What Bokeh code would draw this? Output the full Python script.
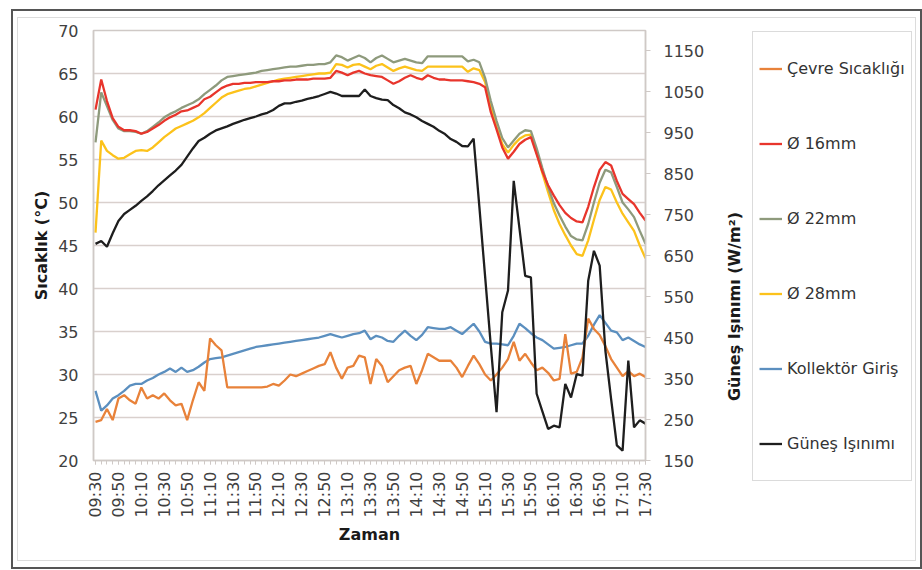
import math
from bokeh.plotting import figure
from bokeh.models import (Range1d, LinearAxis, FixedTicker, Legend, LegendItem,
                          ColumnDataSource, Label, Div)
from bokeh.embed import file_html
from bokeh.resources import INLINE

# time categories every 5 minutes, 09:30 .. 17:30
times = [f"{(570 + 5 * i) // 60:02d}:{(570 + 5 * i) % 60:02d}" for i in range(97)]
tick_labels = ["09:30", "09:50", "10:10", "10:30", "10:50", "11:10", "11:30", "11:50",
               "12:10", "12:30", "12:50", "13:10", "13:30", "13:50", "14:10", "14:30",
               "14:50", "15:10", "15:30", "15:50", "16:10", "16:30", "16:50", "17:10", "17:30"]
temp_ticks = [20, 25, 30, 35, 40, 45, 50, 55, 60, 65, 70]
rad_ticks = [150, 250, 350, 450, 550, 650, 750, 850, 950, 1050, 1150]

cevre = [24.5, 24.7, 26.0, 24.7, 27.2, 27.6, 27.0, 26.6, 28.5, 27.2,
         27.6, 27.2, 27.8, 27.0, 26.4, 26.6, 24.7, 27.0, 29.1, 28.1,
         34.2, 33.4, 32.8, 28.5, 28.5, 28.5, 28.5, 28.5, 28.5, 28.5,
         28.6, 28.9, 28.7, 29.3, 30.0, 29.8, 30.1, 30.4, 30.7, 31.0,
         31.2, 32.6, 30.8, 29.5, 30.8, 31.0, 32.2, 32.0, 28.9, 31.8,
         31.0, 29.1, 29.8, 30.5, 30.8, 31.0, 28.9, 30.5, 32.4, 32.0,
         31.6, 31.6, 31.6, 30.8, 29.7, 31.0, 32.2, 31.2, 30.0, 29.3,
         30.0, 30.8, 31.8, 33.8, 31.6, 32.4, 31.4, 30.5, 30.8, 30.2,
         29.3, 29.5, 34.7, 30.1, 30.3, 32.0, 36.5, 35.3, 34.6, 33.3,
         31.8, 30.8, 29.8, 30.4, 29.8, 30.1, 29.7]

d16 = [60.8, 64.3, 61.8, 59.8, 58.8, 58.4, 58.4, 58.3, 58.0, 58.2,
       58.6, 59.0, 59.5, 59.9, 60.2, 60.6, 60.7, 61.0, 61.3, 62.0,
       62.3, 62.8, 63.3, 63.6, 63.8, 63.8, 63.9, 63.9, 64.0, 64.0,
       64.0, 64.1, 64.1, 64.2, 64.2, 64.3, 64.3, 64.3, 64.4, 64.4,
       64.4, 64.5, 65.3, 65.1, 64.8, 65.1, 65.3, 65.0, 64.8, 64.7,
       64.6, 64.2, 63.8, 64.1, 64.5, 64.8, 64.5, 64.3, 64.8, 64.5,
       64.3, 64.3, 64.2, 64.2, 64.2, 64.1, 64.0, 63.8, 63.4, 60.5,
       58.5, 56.4, 55.1, 55.9, 56.8, 57.3, 57.6, 55.6, 53.6, 52.0,
       50.8, 49.7, 48.8, 48.2, 47.8, 47.7, 49.5, 51.8, 53.8, 54.7,
       54.3, 52.5, 51.0, 50.4, 49.8, 48.8, 47.9]

d22 = [57.0, 62.8, 61.2, 59.6, 58.6, 58.3, 58.3, 58.2, 58.0, 58.3,
       58.8, 59.3, 59.9, 60.3, 60.6, 61.0, 61.3, 61.6, 62.0, 62.6,
       63.1, 63.6, 64.2, 64.6, 64.7, 64.8, 64.9, 65.0, 65.1, 65.3,
       65.4, 65.5, 65.6, 65.7, 65.8, 65.8, 65.9, 66.0, 66.0, 66.1,
       66.1, 66.3, 67.1, 66.9, 66.5, 66.8, 67.1, 66.8, 66.3, 66.8,
       67.1, 66.7, 66.3, 66.5, 66.7, 66.5, 66.3, 66.2, 67.0, 67.0,
       67.0, 67.0, 67.0, 67.0, 67.0, 66.4, 66.6, 66.3, 64.5, 61.8,
       59.5, 57.5, 56.4, 57.2, 58.0, 58.4, 58.3, 56.3, 54.0, 51.8,
       49.9, 48.5, 47.2, 46.1, 45.7, 45.6, 47.5, 50.0, 52.3, 53.8,
       53.5, 51.8, 50.0, 49.2, 48.3, 46.7, 45.2]

d28 = [46.5, 57.2, 56.0, 55.5, 55.1, 55.2, 55.6, 56.0, 56.1, 56.0,
       56.4, 57.0, 57.6, 58.1, 58.6, 58.9, 59.2, 59.5, 59.9, 60.4,
       61.0, 61.6, 62.2, 62.6, 62.8, 63.0, 63.2, 63.3, 63.5, 63.7,
       63.9, 64.1, 64.3, 64.4, 64.5, 64.6, 64.7, 64.8, 64.9, 65.0,
       65.0, 65.1, 66.1, 66.0, 65.7, 66.0, 66.1, 65.8, 65.5, 65.9,
       66.1, 65.7, 65.3, 65.6, 65.8, 65.6, 65.4, 65.3, 65.8, 65.8,
       65.8, 65.8, 65.8, 65.8, 65.8, 65.2, 65.6, 65.4, 64.0, 61.2,
       58.8, 56.8, 55.8, 56.7, 57.4, 57.8, 57.9, 55.8, 53.4, 51.2,
       49.1, 47.5, 46.2, 45.0, 44.0, 43.8, 45.6, 48.0, 50.3, 51.8,
       51.5, 50.0, 48.7, 47.7, 46.7, 45.0, 43.5]

kollektor = [28.1, 25.8, 26.4, 27.2, 27.6, 28.1, 28.7, 28.9, 28.9, 29.3,
             29.6, 30.0, 30.3, 30.7, 30.3, 30.8, 30.3, 30.5, 30.9, 31.4,
             31.8, 31.9, 32.0, 32.2, 32.4, 32.6, 32.8, 33.0, 33.2, 33.3,
             33.4, 33.5, 33.6, 33.7, 33.8, 33.9, 34.0, 34.1, 34.2, 34.3,
             34.5, 34.7, 34.5, 34.3, 34.5, 34.7, 34.8, 35.1, 34.1, 34.5,
             34.3, 33.9, 33.8, 34.5, 35.1, 34.5, 34.0, 34.6, 35.5, 35.4,
             35.3, 35.3, 35.5, 35.1, 34.7, 35.3, 35.9, 35.0, 33.8, 33.6,
             33.6, 33.5, 33.4, 34.5, 35.9, 35.4, 34.8, 34.3, 34.0, 33.5,
             33.0, 33.1, 33.2, 33.4, 33.6, 33.6, 34.5, 35.8, 36.9, 36.0,
             35.1, 34.9, 34.0, 34.3, 33.9, 33.5, 33.2]

gunes = [679, 686, 672, 705, 735, 752, 762, 772, 784, 795,
         808, 822, 834, 846, 858, 872, 892, 912, 930, 938,
         948, 956, 961, 966, 972, 977, 982, 986, 990, 995,
         999, 1006, 1016, 1022, 1022, 1026, 1029, 1033, 1036, 1040,
         1045, 1050, 1046, 1040, 1040, 1040, 1040, 1056, 1040, 1035,
         1031, 1030, 1018, 1010, 1000, 995, 988, 979, 972, 965,
         955, 947, 935, 928, 918, 917, 936, 770, 600, 430,
         268, 512, 565, 833, 717, 601, 597, 313, 270, 227,
         235, 231, 337, 304, 361, 357, 589, 662, 626, 418,
         300, 187, 174, 394, 231, 248, 240]

series_names = ["Çevre Sıcaklığı", "Ø 16mm", "Ø 22mm", "Ø 28mm", "Kollektör Giriş", "Güneş Işınımı"]
series_cols = ["cevre", "d16", "d22", "d28", "kollektor", "gunes"]
series_colors = ["#e8823a", "#e8352c", "#8e9a7c", "#fcc21b", "#5b8fbf", "#1e1e1e"]
left_title = "Sıcaklık (°C)"
right_title = "Güneş Işınımı (W/m²)"
x_title = "Zaman"

FONT = "DejaVu Sans"
TICK_COLOR = "#404040"
TITLE_COLOR = "#1a1a1a"
LINE_GRAY = "#cfc9c6"
LW = 2.3

src = ColumnDataSource(dict(x=list(range(len(times))), cevre=cevre, d16=d16, d22=d22,
                            d28=d28, kollektor=kollektor, gunes=gunes))

p = figure(width=922, height=570, x_range=Range1d(-0.35, len(times) - 1),
           y_range=Range1d(20, 70), output_backend="svg", toolbar_location=None,
           min_border_left=93, min_border_right=277, min_border_top=30, min_border_bottom=110)
p.extra_y_ranges = {"rad": Range1d(150, 1200)}
p.background_fill_color = "white"
p.border_fill_color = "white"
p.outline_line_color = LINE_GRAY
p.outline_line_width = 1.5

p.xgrid.visible = False
p.ygrid.grid_line_color = "#d9d0cd"
p.ygrid.grid_line_width = 1.5

lax = p.left[0]
lax.ticker = FixedTicker(ticks=temp_ticks)
lax.axis_label = left_title

rax = LinearAxis(y_range_name="rad", ticker=FixedTicker(ticks=rad_ticks))
p.add_layout(rax, "right")

bax = p.below[0]
major_idx = [i for i, t in enumerate(times) if t in tick_labels]
bax.ticker = FixedTicker(ticks=major_idx, minor_ticks=list(range(len(times))))
bax.major_label_overrides = {i: times[i] for i in major_idx}
bax.major_label_orientation = math.pi / 2
bax.axis_label = x_title

for ax in (lax, rax, bax):
    ax.axis_line_color = LINE_GRAY
    ax.axis_line_width = 1.5
    ax.major_tick_line_color = LINE_GRAY
    ax.minor_tick_line_color = LINE_GRAY
    ax.major_label_text_font = FONT
    ax.major_label_text_font_size = "16px"
    ax.major_label_text_color = TICK_COLOR
    ax.axis_label_text_font = FONT
    ax.axis_label_text_font_size = "16px"
    ax.axis_label_text_font_style = "bold"
    ax.axis_label_text_color = TITLE_COLOR

lax.major_tick_out = 0
lax.major_tick_in = 0
lax.minor_tick_out = 0
lax.minor_tick_in = 0
lax.major_label_standoff = 15
lax.axis_label_standoff = 4

rax.major_tick_out = 5
rax.major_tick_in = 0
rax.minor_tick_out = 0
rax.minor_tick_in = 0
rax.major_label_standoff = 13

bax.major_tick_out = 4
bax.major_tick_in = 0
bax.minor_tick_out = 4
bax.minor_tick_in = 0
bax.major_label_standoff = 7
bax.axis_label_standoff = 4

# drawing order: collector inlet, ambient, 28, 22, 16, radiation on top
for idx in (4, 0, 3, 2, 1, 5):
    kw = {"y_range_name": "rad"} if series_cols[idx] == "gunes" else {}
    p.line("x", series_cols[idx], source=src, line_color=series_colors[idx], line_width=LW, **kw)

# right axis title (reads bottom-to-top, as in the reference)
tt = figure(width=24, height=200, x_range=Range1d(0, 1), y_range=Range1d(0, 1),
            output_backend="svg", toolbar_location=None, min_border=0)
tt.axis.visible = False
tt.grid.visible = False
tt.outline_line_color = None
tt.background_fill_color = None
tt.border_fill_color = None
tt.styles = {"position": "absolute", "left": "722px", "top": "206px"}
tt.add_layout(Label(x=0.5, y=0.5, text=right_title, angle=math.pi / 2,
                    text_align="center", text_baseline="middle", text_font=FONT,
                    text_font_size="16px", text_font_style="bold", text_color=TITLE_COLOR))

# legend panel, placed to the right of the chart; its lines use the same data
# but with ranges that keep them out of view, so only the legend shows
lg = figure(width=160, height=450, x_range=Range1d(-3, -2), y_range=Range1d(-3, -2),
            output_backend="svg", toolbar_location=None, min_border=0)
lg.axis.visible = False
lg.grid.visible = False
lg.outline_line_color = None
lg.background_fill_color = None
lg.border_fill_color = None
lg.styles = {"position": "absolute", "left": "752px", "top": "31px"}
items = []
for name, col, color in zip(series_names, series_cols, series_colors):
    r = lg.line("x", col, source=src, line_color=color, line_width=LW)
    items.append(LegendItem(label=name, renderers=[r]))
legend = Legend(items=items, location="top_left")
legend.label_text_font = FONT
legend.label_text_font_size = "16px"
legend.label_text_color = "#333333"
legend.glyph_width = 23
legend.glyph_height = 61
legend.label_height = 61
legend.spacing = 14
legend.padding = 6
legend.margin = 0
legend.label_standoff = 5
legend.border_line_color = "#b8b8b8"
legend.border_line_width = 1.5
legend.background_fill_color = "white"
legend.background_fill_alpha = 1.0
lg.add_layout(legend)

# light inner frame of the chart area and dark outer frame of the figure
frame_box = Div(text="", width=899, height=544,
                styles={"position": "absolute", "left": "12px", "top": "12px",
                        "border": "1.5px solid #dcdcdc", "pointer-events": "none"})
outer_box = Div(text="", width=911, height=560,
                styles={"position": "absolute", "left": "6px", "top": "4px",
                        "border": "2px solid #555555", "pointer-events": "none"})

open("out.html", "w").write(file_html([p, tt, lg, frame_box, outer_box], INLINE))
